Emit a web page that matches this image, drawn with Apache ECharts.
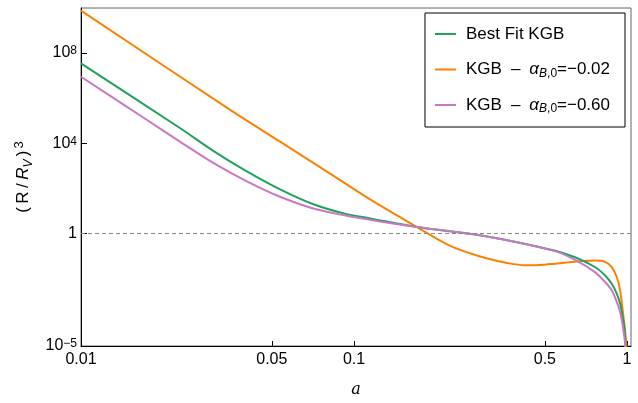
<!DOCTYPE html>
<html>
<head>
<meta charset="utf-8">
<script src="https://cdn.jsdelivr.net/npm/echarts@6/dist/echarts.min.js"></script>
<style>
  html, body { margin: 0; padding: 0; background: #fff; }
  #chart { width: 638px; height: 403px; }
</style>
</head>
<body>
<div id="chart"></div>
<script>
// scale factor a on the x axis, (R/R_V)^3 on the y axis (both log)
var aBest = [0.01, 0.0231, 0.0305, 0.0405, 0.0536, 0.071, 0.094, 0.1145, 0.17, 0.3, 0.545, 0.645, 0.763, 0.831, 0.879, 0.917, 0.943, 0.964, 0.983, 0.9975];
var yBest = [3.5e7, 4.6e4, 4.6e3, 560, 89, 19.5, 7.1, 4.6, 1.9, 0.76, 0.17, 0.087, 0.032, 0.0135, 0.0058, 0.0021, 7.6e-4, 1.95e-4, 3.6e-5, 1e-7];

var aLow = [0.01, 0.0352, 0.0536, 0.0817, 0.1145, 0.17, 0.225, 0.29, 0.342, 0.385, 0.43, 0.48, 0.545, 0.645, 0.763, 0.831, 0.879, 0.917, 0.943, 0.964, 0.983, 0.9975, 1.005];
var yLow = [7.6e9, 3.0e5, 1.17e4, 447, 32, 1.9, 0.28, 0.093, 0.056, 0.043, 0.038, 0.039, 0.045, 0.055, 0.062, 0.054, 0.032, 0.0115, 0.00295, 3.9e-4, 5e-5, 6.3e-6, 1e-7];

var aHigh = [0.01, 0.0174, 0.0231, 0.0305, 0.0405, 0.0536, 0.071, 0.094, 0.1145, 0.17, 0.3, 0.545, 0.645, 0.763, 0.831, 0.879, 0.917, 0.943, 0.964, 0.983, 0.9975];
var yHigh = [8.9e6, 1.1e5, 1.15e4, 1350, 204, 42, 12.6, 6.0, 4.0, 1.9, 0.76, 0.162, 0.066, 0.019, 0.0069, 0.00295, 9.1e-4, 3.3e-4, 8.3e-5, 1.3e-5, 1e-7];

var xTicks = [0.01, 0.05, 0.1, 0.5, 1];
var yTicks = [1e-5, 1, 1e4, 1e8];
var refLevel = 1;

var names = ['Best Fit KGB', 'KGB alpha=-0.02', 'KGB alpha=-0.60'];
var legendText = {
    'Best Fit KGB': 'Best Fit KGB',
    'KGB alpha=-0.02': 'KGB{d|\u2013}{i|\u03b1}{subi|B}{sub|,0}=\u22120.02',
    'KGB alpha=-0.60': 'KGB{d|\u2013}{i|\u03b1}{subi|B}{sub|,0}=\u22120.60'
};
var colors = ['#1fa35c', '#ff8000', '#c978c4'];

function pairs(xs, ys) {
    return xs.map(function (x, i) { return [x, ys[i]]; });
}

var chart = echarts.init(document.getElementById('chart'));

var font = 'Liberation Sans';
var thin = '\u2009';

var option = {
    animation: false,
    grid: {
        left: 81, right: 7, top: 8, bottom: 55,
        show: true, borderColor: '#666', borderWidth: 1
    },
    legend: {
        data: names,
        orient: 'vertical',
        right: 13, top: 13,
        padding: [11, 15, 12, 10],
        itemGap: 15.5,
        itemWidth: 21, itemHeight: 2,
        icon: 'rect',
        borderColor: '#000', borderWidth: 1,
        backgroundColor: '#fff',
        formatter: function (n) { return legendText[n]; },
        textStyle: {
            fontFamily: font, fontSize: 17, color: '#000',
            lineHeight: 20, height: 20,
            padding: [0, 0, 0, 5],
            rich: {
                d: { fontFamily: font, fontSize: 17, color: '#000', padding: [0, 9, 0, 9] },
                i: { fontFamily: font, fontSize: 17, fontStyle: 'italic', color: '#000' },
                subi: { fontFamily: font, fontSize: 12, fontStyle: 'italic', color: '#000', verticalAlign: 'bottom', lineHeight: 14 },
                sub: { fontFamily: font, fontSize: 12, color: '#000', verticalAlign: 'bottom', lineHeight: 14 }
            }
        }
    },
    xAxis: {
        type: 'log', logBase: 10,
        min: 0.01, max: 1.034,
        name: 'a',
        nameLocation: 'middle',
        nameGap: 36,
        nameTextStyle: { fontFamily: 'DejaVu Serif', fontStyle: 'italic', fontSize: 16, color: '#000' },
        axisLine: { lineStyle: { color: '#000', width: 1 } },
        axisTick: { inside: true, length: 5, customValues: xTicks, lineStyle: { color: '#000' } },
        axisLabel: {
            customValues: xTicks,
            fontFamily: font, fontSize: 16, color: '#000', margin: 6,
            formatter: function (v) { return String(v); }
        },
        splitLine: { show: false },
        minorTick: { show: false }
    },
    yAxis: {
        type: 'log', logBase: 10,
        min: 1e-5, max: 1e10,
        name: '(' + thin + 'R' + thin + '/' + thin + '{i|R}{sub|V}' + thin + '){sup|3}',
        nameLocation: 'middle',
        nameGap: 38,
        nameRotate: 90,
        nameTextStyle: {
            fontFamily: font, fontSize: 17, color: '#000', lineHeight: 22,
            rich: {
                i: { fontFamily: font, fontSize: 17, fontStyle: 'italic', color: '#000' },
                sub: { fontFamily: font, fontSize: 12, fontStyle: 'italic', color: '#000', verticalAlign: 'bottom', lineHeight: 16 },
                sup: { fontFamily: font, fontSize: 13, color: '#000', verticalAlign: 'top', lineHeight: 12, padding: [0, 0, 0, 2] }
            }
        },
        axisLine: { lineStyle: { color: '#000', width: 1 } },
        axisTick: { inside: true, length: 6, customValues: yTicks, lineStyle: { color: '#000' } },
        axisLabel: {
            customValues: yTicks,
            fontFamily: font, fontSize: 16, color: '#000', margin: 4,
            formatter: function (v) {
                if (v === 1) return '1';
                var e = Math.round(Math.log(v) / Math.LN10);
                return '10{sup|' + (e < 0 ? '\u2212' + (-e) : e) + '}';
            },
            rich: {
                sup: { fontFamily: font, fontSize: 12, color: '#000', verticalAlign: 'top', lineHeight: 12 }
            }
        },
        splitLine: { show: false },
        minorTick: { show: false }
    },
    series: [
        {
            name: names[0], type: 'line',
            data: pairs(aBest, yBest),
            showSymbol: false, smooth: 0.3, clip: true,
            lineStyle: { color: colors[0], width: 2 },
            itemStyle: { color: colors[0] },
            z: 3,
            markLine: {
                silent: true, symbol: 'none',
                label: { show: false },
                lineStyle: { color: '#888', type: [4, 3], width: 1 },
                data: [{ yAxis: refLevel }]
            }
        },
        {
            name: names[1], type: 'line',
            data: pairs(aLow, yLow),
            showSymbol: false, smooth: 0.3, clip: true,
            lineStyle: { color: colors[1], width: 2 },
            itemStyle: { color: colors[1] },
            z: 2
        },
        {
            name: names[2], type: 'line',
            data: pairs(aHigh, yHigh),
            showSymbol: false, smooth: 0.3, clip: true,
            lineStyle: { color: colors[2], width: 2 },
            itemStyle: { color: colors[2] },
            z: 4
        }
    ]
};

chart.setOption(option);
</script>
</body>
</html>
